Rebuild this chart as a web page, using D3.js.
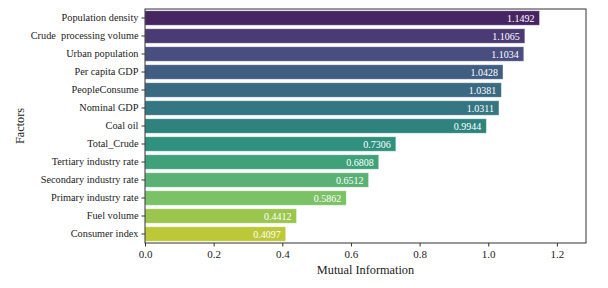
<!DOCTYPE html>
<html>
<head>
<meta charset="utf-8">
<script src="https://cdn.jsdelivr.net/npm/d3@7"></script>
<style>
  html, body { margin: 0; padding: 0; background: #fff; }
  svg { display: block; }
  text { font-family: "Liberation Serif", "Times New Roman", serif; white-space: pre; }
</style>
</head>
<body>
<svg id="chart" width="608" height="288"></svg>
<script>
const factors = [
  "Population density", "Crude  processing volume", "Urban population", "Per capita GDP",
  "PeopleConsume", "Nominal GDP", "Coal oil", "Total_Crude", "Tertiary industry rate",
  "Secondary industry rate", "Primary industry rate", "Fuel volume", "Consumer index"
];
const mutualInfo = [1.1492, 1.1065, 1.1034, 1.0428, 1.0381, 1.0311, 0.9944, 0.7306, 0.6808, 0.6512, 0.5862, 0.4412, 0.4097];
const xTicks = [0.0, 0.2, 0.4, 0.6, 0.8, 1.0, 1.2];
const xLabel = "Mutual Information";
const yLabel = "Factors";

const data = factors.map((f, i) => ({ factor: f, value: mutualInfo[i] }));

const svg = d3.select("#chart");
const margin = { left: 145, right: 22, top: 9, bottom: 45 };
const W = 608, H = 288;
const x0 = margin.left, x1 = W - margin.right;
const y0 = margin.top, y1 = H - margin.bottom;

const x = d3.scaleLinear().domain([0, d3.max(mutualInfo) * 1.118]).range([x0, x1]);
const y = d3.scaleBand().domain(factors).range([y0, y1]).paddingInner(0.2).paddingOuter(0.1);

// seaborn-like viridis palette with saturation 0.75
const n = factors.length;
const color = d3.scaleOrdinal().domain(factors).range(
  factors.map((f, i) => {
    const c = d3.hsl(d3.interpolateViridis((i + 1) / (n + 1)));
    c.s *= 0.75;
    return c.formatHex();
  })
);

// bars
svg.append("g").selectAll("rect").data(data).join("rect")
  .attr("x", x(0))
  .attr("y", d => y(d.factor))
  .attr("width", d => x(d.value) - x(0))
  .attr("height", y.bandwidth())
  .attr("fill", d => color(d.factor))
  .attr("stroke", "#ffffff")
  .attr("stroke-opacity", 0.35)
  .attr("stroke-width", 0.8);

// value labels
svg.append("g").selectAll("text").data(data).join("text")
  .attr("x", d => x(d.value) - 5)
  .attr("y", d => y(d.factor) + y.bandwidth() / 2)
  .attr("dy", "0.35em")
  .attr("text-anchor", "end")
  .attr("fill", "#ffffff")
  .attr("font-size", 10)
  .text(d => d.value.toFixed(4));

// frame
svg.append("rect")
  .attr("x", x0).attr("y", y0)
  .attr("width", x1 - x0).attr("height", y1 - y0)
  .attr("fill", "none").attr("stroke", "#333").attr("stroke-width", 1);

// x axis
const xAxis = svg.append("g").attr("transform", `translate(0,${y1})`)
  .call(d3.axisBottom(x).tickValues(xTicks).tickFormat(d3.format(".1f")).tickSize(3.5).tickPadding(4));
xAxis.select(".domain").remove();
xAxis.selectAll("line").attr("stroke", "#333");
xAxis.selectAll("text").attr("font-size", 11).attr("fill", "#222")
  .style("font-family", '"Liberation Serif", "Times New Roman", serif');

// y axis
const yAxis = svg.append("g").attr("transform", `translate(${x0},0)`)
  .call(d3.axisLeft(y).tickSize(3.5).tickPadding(3));
yAxis.select(".domain").remove();
yAxis.selectAll("line").attr("stroke", "#333");
yAxis.selectAll("text").attr("font-size", 10.3).attr("fill", "#222")
  .style("font-family", '"Liberation Serif", "Times New Roman", serif')
  .style("white-space", "pre");

// axis labels
svg.append("text")
  .attr("x", (x0 + x1) / 2).attr("y", 274)
  .attr("text-anchor", "middle").attr("font-size", 12.3).attr("fill", "#222")
  .text(xLabel);
svg.append("text")
  .attr("transform", `translate(24,${(y0 + y1) / 2}) rotate(-90)`)
  .attr("text-anchor", "middle").attr("font-size", 12.3).attr("fill", "#222")
  .text(yLabel);
</script>
</body>
</html>
